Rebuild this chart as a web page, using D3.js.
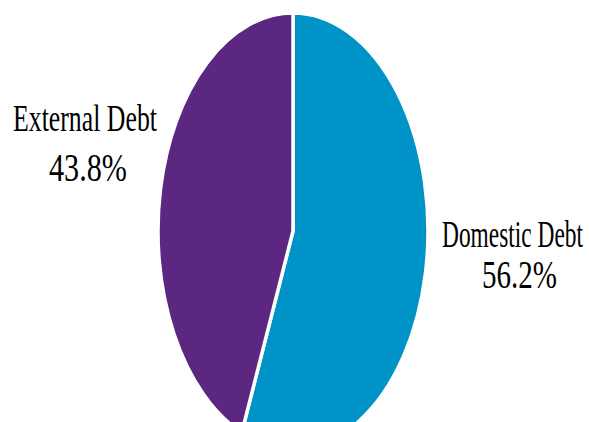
<!DOCTYPE html>
<html>
<head>
<meta charset="utf-8">
<script src="https://cdn.jsdelivr.net/npm/d3@7"></script>
<style>
  body { margin: 0; background: #fff; }
  text { font-family: "Liberation Serif", "Times New Roman", serif; fill: #000; }
</style>
</head>
<body>
<div id="chart"></div>
<script>
// debt composition
const labels = ["Domestic Debt", "External Debt"];
const shares = [56.2, 43.8];
const colors = ["#0093c7", "#5b2781"];

const width = 589;
const height = 422;

const svg = d3.select("#chart")
  .append("svg")
  .attr("width", width)
  .attr("height", height);

// the pie is drawn as a tall ellipse
const cx = 293, cy = 231;
const rx = 135, ry = 218;

const pie = d3.pie().sort(null).value(d => d)(shares);
const arc = d3.arc().innerRadius(0).outerRadius(ry);

svg.append("g")
  .attr("transform", `translate(${cx},${cy}) scale(${rx / ry},1)`)
  .selectAll("path")
  .data(pie)
  .enter().append("path")
  .attr("d", arc)
  .style("fill", (d, i) => colors[i])
  .style("stroke", "#fff")
  .style("stroke-width", 3.5)
  .attr("vector-effect", "non-scaling-stroke");

// labels: name line and percent line, squeezed horizontally to fit
const labelPos = [
  { x: 442, y: 247, w: 141, px: 482, py: 288, pw: 75 },
  { x: 13, y: 131, w: 144, px: 49, py: 181, pw: 78 }
];

function squeezedText(x, y, w, size, str) {
  const t = svg.append("text")
    .style("font-size", size + "px")
    .text(str);
  const natural = t.node().getComputedTextLength();
  t.attr("transform", `translate(${x},${y}) scale(${w / natural},1)`);
}

labelPos.forEach((p, i) => {
  squeezedText(p.x, p.y, p.w, 38, labels[i]);
  squeezedText(p.px, p.py, p.pw, 41, shares[i].toFixed(1) + "%");
});
</script>
</body>
</html>
